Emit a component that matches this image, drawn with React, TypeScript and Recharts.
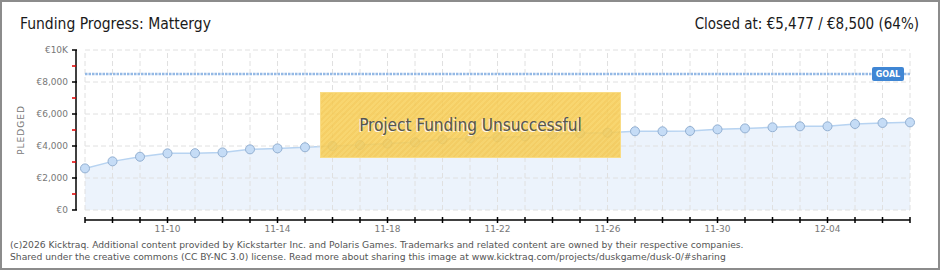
import { AreaChart, Area, XAxis, YAxis, ReferenceLine } from 'recharts';

const dates = [
    '11-07', '11-08', '11-09', '11-10', '11-11', '11-12', '11-13', '11-14',
    '11-15', '11-16', '11-17', '11-18', '11-19', '11-20', '11-21', '11-22',
    '11-23', '11-24', '11-25', '11-26', '11-27', '11-28', '11-29', '11-30',
    '12-01', '12-02', '12-03', '12-04', '12-05', '12-06', '12-07',
];
const pledged = [
    2600, 3040, 3330, 3540, 3550, 3600, 3790, 3850,
    3920, 4000, 4060, 4150, 4230, 4420, 4480, 4540,
    4600, 4730, 4790, 4830, 4920, 4920, 4940, 5040,
    5100, 5170, 5230, 5230, 5375, 5440, 5477,
];
const xTickLabels = ['11-10', '11-14', '11-18', '11-22', '11-26', '11-30', '12-04'];
const yTicks = [0, 1000, 2000, 3000, 4000, 5000, 6000, 7000, 8000, 9000, 10000];
const yTickLabels: Record<number, string> = {
    0: '€0', 2000: '€2,000', 4000: '€4,000', 6000: '€6,000', 8000: '€8,000', 10000: '€10K',
};
const gridValues = [0, 2000, 4000, 6000, 8000, 10000];
const goal = 8500;
// x axis line sits a little below the €0 line
const xAxisLineValue = -625;

const data = dates.map((date, i) => ({ date, pledged: pledged[i] }));
const first = dates[0];
const last = dates[dates.length - 1];

const pixelFont = '"DejaVu Sans", Verdana, sans-serif';
const titleFont = '"DejaVu Sans Condensed", "DejaVu Sans", sans-serif';

function XTick(props: any) {
    const { x, y, payload } = props;
    const showLabel = xTickLabels.includes(payload.value);
    return (
        <g>
            <line x1={x} x2={x} y1={y + 7} y2={y + 13} stroke="#000" strokeWidth={1.5} />
            {showLabel && (
                <text x={x} y={y + 22} textAnchor="middle" fontSize={9} fill="#777" fontFamily={pixelFont}>
                    {payload.value}
                </text>
            )}
        </g>
    );
}

function YTick(props: any) {
    const { x, y, payload } = props;
    const major = payload.value % 2000 === 0;
    return (
        <g>
            <line
                x1={x - 4}
                x2={x + (major ? 1 : 0)}
                y1={y}
                y2={y}
                stroke={major ? '#000' : '#e00000'}
                strokeWidth={1.5}
            />
            {major && (
                <text x={x - 8} y={y + 3} textAnchor="end" fontSize={9} fill="#777" fontFamily={pixelFont}>
                    {yTickLabels[payload.value]}
                </text>
            )}
        </g>
    );
}

function GoalLabel(props: any) {
    const vb = props.viewBox || {};
    const right = vb.x2 ?? (vb.x + (vb.width || 0));
    const y = vb.y1 ?? vb.y;
    return (
        <g>
            <rect x={right - 38} y={y - 7} width={32} height={14} rx={2} fill="#3f86d4" />
            <text x={right - 22} y={y + 3} textAnchor="middle" fontSize={8} fill="#fff" fontFamily={pixelFont} fontWeight="bold">
                GOAL
            </text>
        </g>
    );
}

function PledgedLabel(props: any) {
    const vb = props.viewBox || {};
    const cy = vb.y + vb.height / 2;
    return (
        <text
            x={24}
            y={cy}
            transform={`rotate(-90, 24, ${cy})`}
            textAnchor="middle"
            fontSize={9}
            fill="#777"
            letterSpacing={1}
            fontFamily={pixelFont}
        >
            PLEDGED
        </text>
    );
}

const titleStyle = {
    position: 'absolute' as const,
    top: 12,
    fontFamily: titleFont,
    fontSize: 15.5,
    lineHeight: '20px',
    color: '#1a1a1a',
    whiteSpace: 'nowrap' as const,
};

export default function App() {
    return (
        <div
            style={{
                position: 'fixed',
                left: 0,
                top: 0,
                width: 940,
                height: 270,
                background: '#fff',
                boxSizing: 'border-box',
                border: '2px solid #8c8c8c',
                overflow: 'hidden',
            }}
        >
            <div style={{ position: 'absolute', left: -2, top: -2 }}>
                <AreaChart width={940} height={270} data={data} margin={{ top: 50, right: 30, bottom: 30, left: 0 }}>
                    <XAxis
                        dataKey="date"
                        height={30}
                        interval={0}
                        tickLine={false}
                        axisLine={false}
                        tickSize={0}
                        tickMargin={0}
                        padding={{ left: 9, right: 0 }}
                        tick={<XTick />}
                    />
                    <YAxis
                        width={76}
                        domain={[0, 10000]}
                        ticks={yTicks}
                        interval={0}
                        tickLine={false}
                        axisLine={{ stroke: '#000', strokeWidth: 1.5 }}
                        tickSize={0}
                        tickMargin={0}
                        tick={<YTick />}
                        label={<PledgedLabel />}
                    />
                    {dates.map((d) => (
                        <ReferenceLine
                            key={'v' + d}
                            segment={[{ x: d, y: 0 }, { x: d, y: 10000 }]}
                            stroke="#e0e0e0"
                            strokeDasharray="5 3"
                        />
                    ))}
                    {gridValues.map((v) => (
                        <ReferenceLine
                            key={'h' + v}
                            segment={[{ x: first, y: v }, { x: last, y: v }]}
                            stroke="#e0e0e0"
                            strokeDasharray="5 3"
                        />
                    ))}
                    <Area
                        type="linear"
                        dataKey="pledged"
                        stroke="#b7d3f1"
                        strokeWidth={1.5}
                        fill="#cfe2f8"
                        fillOpacity={0.4}
                        dot={{ r: 4.5, fill: '#c5dcf6', stroke: '#93b0d2', strokeWidth: 1, fillOpacity: 1 }}
                        isAnimationActive={false}
                    />
                    <ReferenceLine
                        segment={[{ x: first, y: goal }, { x: last, y: goal }]}
                        stroke="#94b9e5"
                        strokeWidth={2.5}
                        strokeDasharray="2.5 1"
                        label={<GoalLabel />}
                    />
                    <ReferenceLine
                        segment={[{ x: first, y: xAxisLineValue }, { x: last, y: xAxisLineValue }]}
                        stroke="#000"
                        strokeWidth={1.5}
                        ifOverflow="visible"
                    />
                </AreaChart>
            </div>
            <div style={{ ...titleStyle, left: 18 }}>Funding Progress: Mattergy</div>
            <div style={{ ...titleStyle, right: 19, fontSize: 15 }}>Closed at: €5,477 / €8,500 (64%)</div>
            <div
                style={{
                    position: 'absolute',
                    left: 318,
                    top: 90,
                    width: 301,
                    height: 66,
                    boxSizing: 'border-box',
                    border: '1px solid #f9dc85',
                    background:
                        'repeating-linear-gradient(135deg, rgba(247,207,88,0.86) 0px, rgba(247,207,88,0.86) 2px, rgba(244,200,80,0.88) 2px, rgba(244,200,80,0.88) 4px)',
                    display: 'flex',
                    alignItems: 'center',
                    justifyContent: 'center',
                    fontFamily: titleFont,
                    fontSize: 17,
                    color: '#555',
                    textShadow: '-1px 1px 0 rgba(255,255,255,0.85)',
                    whiteSpace: 'nowrap',
                }}
            >
                Project Funding Unsuccessful
            </div>
            <div
                style={{
                    position: 'absolute',
                    left: 8,
                    top: 237,
                    fontFamily: pixelFont,
                    fontSize: 9.2,
                    lineHeight: '12px',
                    color: '#555',
                    whiteSpace: 'nowrap',
                }}
            >
                <div>(c)2026 Kicktraq. Additional content provided by Kickstarter Inc. and Polaris Games. Trademarks and related content are owned by their respective companies.</div>
                <div>Shared under the creative commons (CC BY-NC 3.0) license. Read more about sharing this image at www.kicktraq.com/projects/duskgame/dusk-0/#sharing</div>
            </div>
        </div>
    );
}
